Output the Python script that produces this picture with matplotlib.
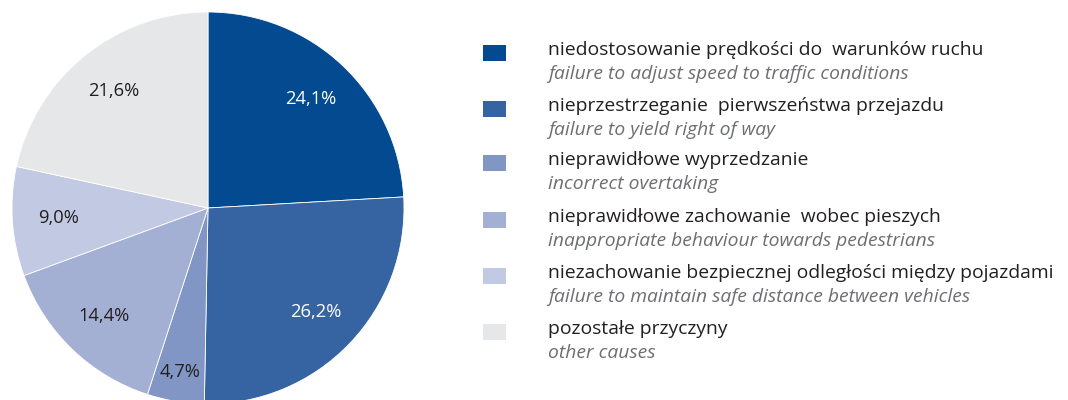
import matplotlib.pyplot as plt
from matplotlib.patches import Rectangle
import numpy as np

# data
shares = [24.1, 26.2, 4.7, 14.4, 9.0, 21.6]
pct_labels = ['24,1%', '26,2%', '4,7%', '14,4%', '9,0%', '21,6%']
colors = ['#034a91', '#3663a2', '#8196c4', '#a3b0d3', '#c1c9e3', '#e6e7e9']
label_colors = ['white', 'white', '#231f20', '#231f20', '#231f20', '#231f20']
names_pl = ['niedostosowanie prędkości do  warunków ruchu',
            'nieprzestrzeganie  pierwszeństwa przejazdu',
            'nieprawidłowe wyprzedzanie',
            'nieprawidłowe zachowanie  wobec pieszych',
            'niezachowanie bezpiecznej odległości między pojazdami',
            'pozostałe przyczyny']
names_en = ['failure to adjust speed to traffic conditions',
            'failure to yield right of way',
            'incorrect overtaking',
            'inappropriate behaviour towards pedestrians',
            'failure to maintain safe distance between vehicles',
            'other causes']

plt.rcParams['font.family'] = ['Open Sans', 'DejaVu Sans']

fig = plt.figure(figsize=(10.68, 4), dpi=100)
ax = fig.add_axes([0, 0, 1, 1])

ax.pie(shares, colors=colors, startangle=90, counterclock=False,
       center=(208, 192), radius=196, frame=True,
       wedgeprops=dict(linewidth=0.6, edgecolor='white'))
ax.set_xlim(0, 1068)
ax.set_ylim(0, 400)
ax.set_aspect('equal')
ax.axis('off')

# percentage labels
cum = 0
for i, s in enumerate(shares):
    mid = np.deg2rad(90 - (cum + s / 2) * 3.6)
    cum += s
    r = 150 if i != 2 else 166
    x = 208 + r * np.cos(mid)
    y = 192 + r * np.sin(mid)
    ax.text(x, y, pct_labels[i], color=label_colors[i], fontsize=13.2,
            ha='center', va='center')

# legend
row_y = [50, 106, 160, 217, 273, 329]
for i in range(len(names_pl)):
    yc = 400 - row_y[i]
    ax.add_patch(Rectangle((483, yc - 11), 23, 16, color=colors[i], lw=0))
    ax.text(548, yc, names_pl[i], fontsize=13.9, color='#231f20', va='center', ha='left')
    ax.text(548, yc - 24, names_en[i], fontsize=13.9, color='#6d6e71', va='center',
            ha='left', style='italic')

fig.savefig('out.png', dpi=100)
